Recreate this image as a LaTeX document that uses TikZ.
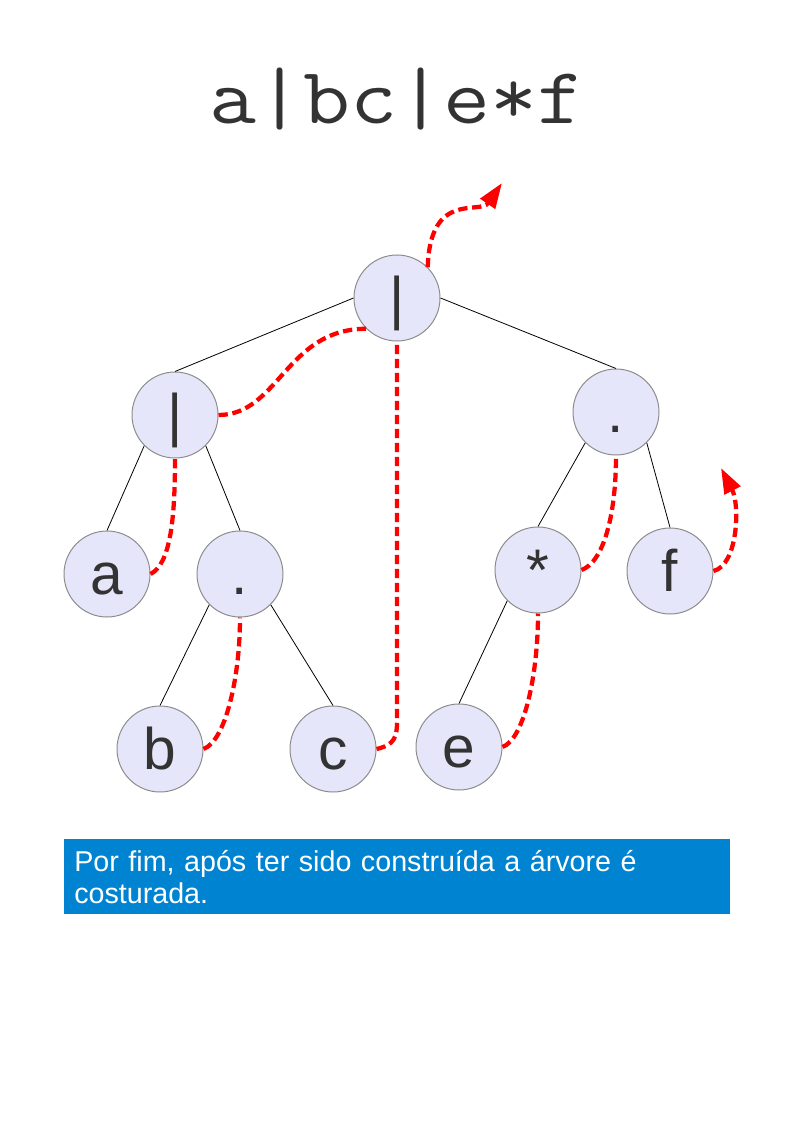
\documentclass[tikz,border=0pt]{standalone}
\usepackage{fontspec}
\setmainfont{Liberation Sans}
\usetikzlibrary{arrows.meta}
\definecolor{lilas}{RGB}{230,230,250}
\definecolor{cinza}{RGB}{51,51,51}
\definecolor{azul}{RGB}{0,132,209}
\begin{document}
\begin{tikzpicture}[x=.75pt, y=-.75pt, >={Triangle[length=19pt, width=13pt]},
    nodo/.style={circle, draw=gray!90, line width=.75pt, fill=lilas, minimum size=64.5pt,
        inner sep=0pt, text height=30pt, text depth=0pt, text=cinza,
        font=\fontsize{44}{44}\selectfont},
    fio/.style={red, line width=3.2pt, dash pattern=on 7pt off 3.5pt}]
\useasboundingbox (0,0) rectangle (794,1123);

\node[anchor=base, text=cinza, transform shape, xscale=1.14,
    font=\ttfamily\fontsize{60}{60}\selectfont] (titulo) at (397,124) {a|bc|e*f};

% arvore
\node[nodo] (raiz) at (397,298) {|};
\node[nodo] (esq) at (175,415) {|};
\node[nodo] (dir) at (616,412) {.};
\node[nodo] (na) at (107,574) {a};
\node[nodo] (pto) at (240,574) {.};
\node[nodo] (ast) at (538,570) {*};
\node[nodo] (nf) at (670,571) {f};
\node[nodo] (nb) at (160,749) {b};
\node[nodo] (nc) at (333,749) {c};
\node[nodo] (ne) at (459,747) {e};

\foreach \a/\b in {raiz.west/esq.north, raiz.east/dir.north, esq.south west/na.north,
    esq.south east/pto.north, pto.south west/nb.north, pto.south east/nc.north,
    dir.south west/ast.north, dir.south east/nf.north, ast.south west/ne.north}
{
    \draw[line width=.6pt](\a)--(\b);
}

% costura
\coordinate (dobra) at (397,722);
\coordinate (saida) at (502,183);
\coordinate (volta) at (721,468);
\draw[fio](na.east)..controls +(20,-10) and +(0,60)..(esq.south);
\draw[fio](esq.east)..controls +(60,0) and +(-80,0)..(raiz.south west);
\draw[fio](nb.east)..controls +(22,-8) and +(0,60)..(pto.south);
\draw[fio](nc.east)..controls +(18,-4) and +(0,15)..(dobra)--(raiz.south);
\draw[fio](ne.east)..controls +(22,-8) and +(0,60)..(ast.south);
\draw[fio](ast.east)..controls +(22,-8) and +(0,60)..(dir.south);
\draw[fio,->](nf.east)..controls (738,565) and (740,505)..(volta);
\draw[fio,->](raiz.north east)..controls (430,190) and (480,215)..(saida);

\node[anchor=north west, fill=azul, text=white, minimum width=499.5pt, minimum height=56.25pt,
    text width=484.5pt, inner xsep=7.5pt, align=left,
    font=\fontsize{21.5}{24}\selectfont] (caixa) at (64,839)
    {Por fim, após ter sido construída a árvore é\\costurada.};
\end{tikzpicture}
\end{document}
